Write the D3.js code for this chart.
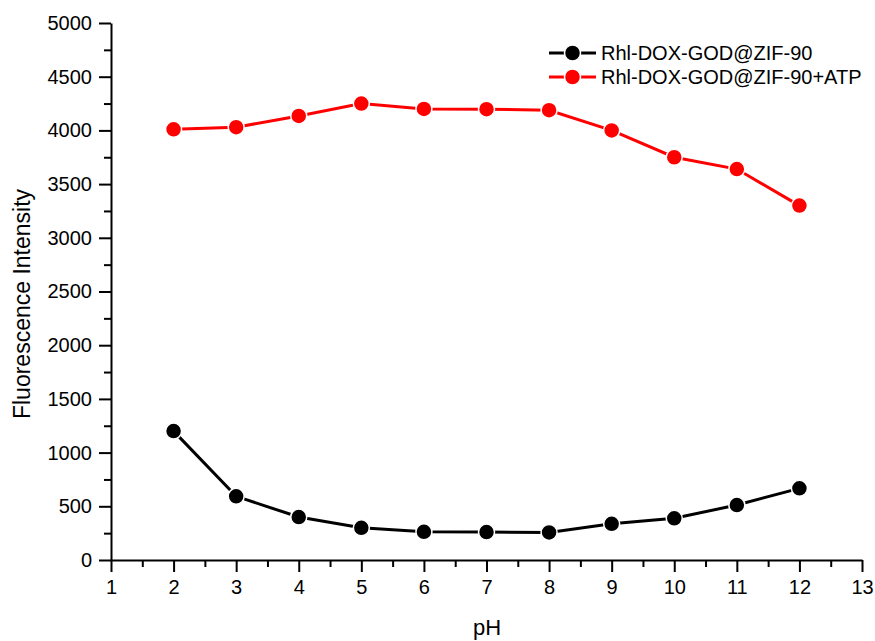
<!DOCTYPE html>
<html>
<head>
<meta charset="utf-8">
<script src="https://cdn.jsdelivr.net/npm/d3@7"></script>
<style>
  body { margin: 0; background: #fff; }
  text { font-family: "Liberation Sans", Arial, sans-serif; }
</style>
</head>
<body>
<div id="chart"></div>
<script>
var pH = [2, 3, 4, 5, 6, 7, 8, 9, 10, 11, 12];
var noATP = [1200, 593, 400, 300, 262, 260, 257, 337, 388, 512, 667];
var withATP = [4010, 4030, 4135, 4250, 4200, 4198, 4188, 4000, 3750, 3640, 3300];
var seriesNames = ["Rhl-DOX-GOD@ZIF-90", "Rhl-DOX-GOD@ZIF-90+ATP"];
var seriesColors = ["#000000", "#ff0000"];
var xTicks = [1, 2, 3, 4, 5, 6, 7, 8, 9, 10, 11, 12, 13];
var yTicks = [0, 500, 1000, 1500, 2000, 2500, 3000, 3500, 4000, 4500, 5000];

var width = 875, height = 641;
var margin = {top: 23, right: 13, bottom: 81, left: 111};

var svg = d3.select("#chart").append("svg")
    .attr("width", width)
    .attr("height", height);

var x = d3.scaleLinear().domain([1, 13]).range([margin.left, width - margin.right]);
var y = d3.scaleLinear().domain([0, 5000]).range([height - margin.bottom, margin.top]);

// minor ticks
var xMinor = d3.range(1.5, 13, 1);
var yMinor = d3.range(250, 5000, 500);

svg.append("g")
    .attr("transform", "translate(0," + y(0) + ")")
    .call(d3.axisBottom(x).tickValues(xMinor).tickSize(7).tickFormat(""))
    .call(function(g) { g.select(".domain").remove(); });

svg.append("g")
    .attr("transform", "translate(" + x(1) + ",0)")
    .call(d3.axisLeft(y).tickValues(yMinor).tickSize(7).tickFormat(""))
    .call(function(g) { g.select(".domain").remove(); });

svg.append("g")
    .attr("transform", "translate(0," + y(0) + ")")
    .call(d3.axisBottom(x).tickValues(xTicks).tickSize(12).tickSizeOuter(0).tickPadding(8).tickFormat(d3.format("d")));

svg.append("g")
    .attr("transform", "translate(" + x(1) + ",0)")
    .call(d3.axisLeft(y).tickValues(yTicks).tickSize(12).tickSizeOuter(0).tickPadding(7).tickFormat(d3.format("d")));

svg.selectAll(".tick line, .domain").attr("stroke", "#000").attr("stroke-width", 2);
svg.selectAll(".tick text").attr("font-size", 20).attr("fill", "#000")
    .attr("font-family", "Liberation Sans, Arial, sans-serif");

svg.append("text")
    .attr("x", 487)
    .attr("y", 635)
    .attr("text-anchor", "middle")
    .attr("font-size", 22)
    .text("pH");

svg.append("text")
    .attr("transform", "translate(30,304) rotate(-90)")
    .attr("text-anchor", "middle")
    .attr("font-size", 23)
    .text("Fluorescence Intensity");

var line = d3.line()
    .x(function(d) { return x(d[0]); })
    .y(function(d) { return y(d[1]); });

[noATP, withATP].forEach(function(vals, i) {
  var pts = pH.map(function(p, j) { return [p, vals[j]]; });
  svg.append("path")
      .datum(pts)
      .attr("fill", "none")
      .attr("stroke", seriesColors[i])
      .attr("stroke-width", 3)
      .attr("d", line);
  svg.selectAll(".pt" + i)
      .data(pts)
      .enter().append("circle")
      .attr("cx", function(d) { return x(d[0]); })
      .attr("cy", function(d) { return y(d[1]); })
      .attr("r", 8)
      .attr("fill", seriesColors[i])
      .attr("stroke", "#fff")
      .attr("stroke-width", 1.5);
});

// legend
var legend = svg.append("g").attr("transform", "translate(549,53)");
seriesNames.forEach(function(name, i) {
  var row = legend.append("g").attr("transform", "translate(0," + (i * 24) + ")");
  row.append("line").attr("x1", 0).attr("x2", 47).attr("y1", 0).attr("y2", 0)
      .attr("stroke", seriesColors[i]).attr("stroke-width", 3);
  row.append("circle").attr("cx", 23.5).attr("cy", 0).attr("r", 8)
      .attr("fill", seriesColors[i]).attr("stroke", "#fff").attr("stroke-width", 1.5);
  row.append("text").attr("x", 52).attr("y", 7).attr("font-size", 20).text(name);
});
</script>
</body>
</html>
